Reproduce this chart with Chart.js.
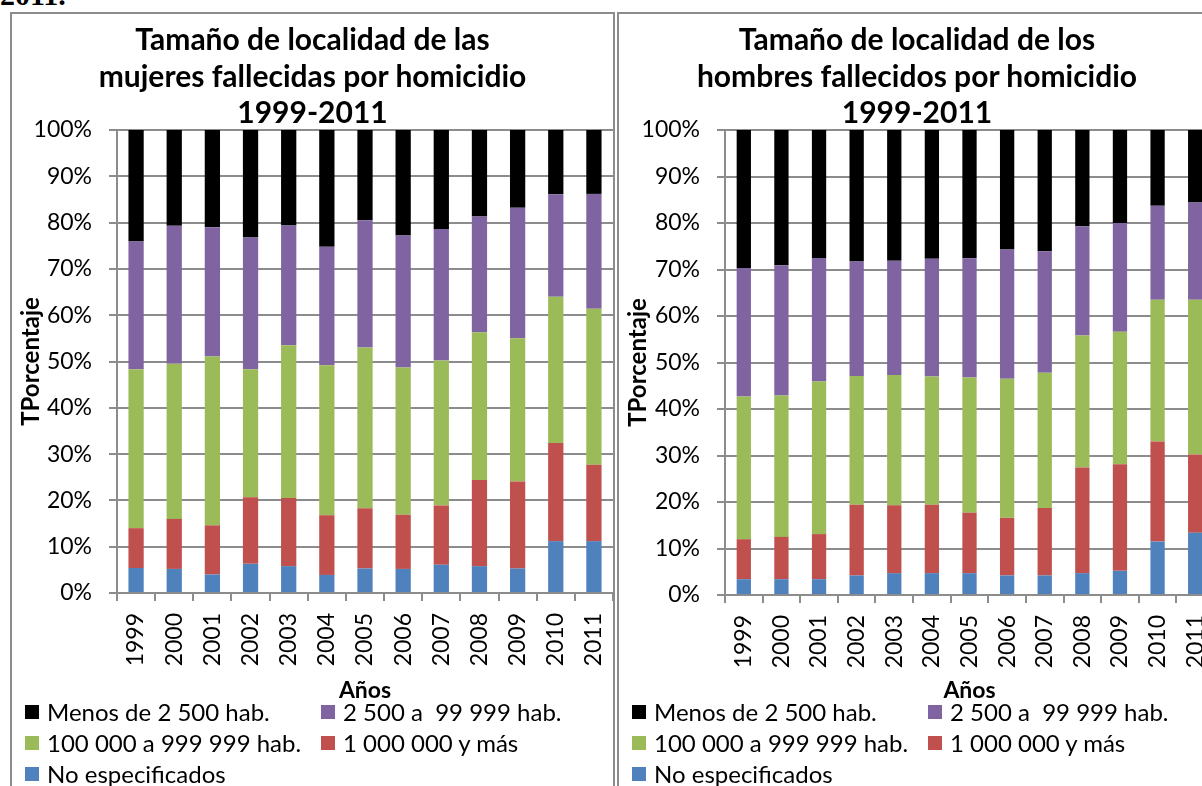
<!DOCTYPE html>
<html lang="es">
<head>
<meta charset="utf-8">
<title>Tamaño de localidad 1999-2011</title>
<script src="https://cdn.jsdelivr.net/npm/chart.js@4.4.1/dist/chart.umd.min.js"></script>
<style>
  html, body { margin: 0; padding: 0; }
  body { width: 1202px; height: 786px; overflow: hidden; background: #fff; position: relative; font-family: Lato, "Open Sans", sans-serif; color: #000; }
  .fecha { position: absolute; left: 0; top: -20px; font: bold 30px/30px "Liberation Serif", serif; }
  .panel { position: absolute; top: 12px; height: 800px; border: 2px solid #8c8c8c; box-sizing: border-box; background: #fff; }
  #panelMujeres { left: 10px; width: 605px; }
  #panelHombres { left: 617px; width: 600px; }
  .panel canvas { position: absolute; left: 0; top: 0; }
  .titulo { position: absolute; left: 0; right: 0; top: 6px; text-align: center; font-weight: bold; font-size: 30px; line-height: 36.5px; }
  .leyenda { position: absolute; left: 13px; top: 682px; display: grid; grid-template-columns: 296px auto; font-size: 24px; }
  .leyenda .item { display: flex; align-items: center; height: 31px; white-space: pre; }
  .leyenda .caja { width: 14px; height: 14px; margin-right: 8px; }
</style>
</head>
<body>
<div class="fecha">2011.</div>

<div class="panel" id="panelMujeres">
  <canvas id="graficoMujeres" width="601" height="772"></canvas>
  <div class="titulo">Tamaño de localidad de las<br>mujeres fallecidas por homicidio<br>1999-2011</div>
  <div class="leyenda" id="leyendaMujeres"></div>
</div>

<div class="panel" id="panelHombres">
  <canvas id="graficoHombres" width="595" height="772"></canvas>
  <div class="titulo">Tamaño de localidad de los<br>hombres fallecidos por homicidio<br>1999-2011</div>
  <div class="leyenda" id="leyendaHombres"></div>
</div>

<script>
// Años del eje X
const anios = ['1999', '2000', '2001', '2002', '2003', '2004', '2005', '2006', '2007', '2008', '2009', '2010', '2011'];

// Etiquetas del eje Y
const etiquetasY = ['0%', '10%', '20%', '30%', '40%', '50%', '60%', '70%', '80%', '90%', '100%'];

// Nombres y colores de las series (orden de la leyenda)
const nombresSeries = ['Menos de 2 500 hab.', '2 500 a  99 999 hab.', '100 000 a 999 999 hab.', '1 000 000 y más', 'No especificados'];
const coloresSeries = ['#000000', '#8064A2', '#9BBB59', '#C0504D', '#4F81BD'];

// Mujeres: porcentaje de cada tamaño de localidad por año
const mujeresMenos2500 = [24.1, 20.7, 21.0, 23.2, 20.6, 25.2, 19.5, 22.8, 21.4, 18.7, 16.8, 13.9, 13.8];
const mujeres2500 = [27.6, 29.8, 27.9, 28.5, 25.9, 25.6, 27.5, 28.5, 28.4, 25.0, 28.2, 22.1, 24.8];
const mujeres100000 = [34.3, 33.5, 36.5, 27.6, 33.0, 32.4, 34.7, 31.8, 31.3, 31.9, 30.9, 31.6, 33.7];
const mujeresMillon = [8.6, 10.8, 10.6, 14.4, 14.7, 12.9, 13.0, 11.7, 12.8, 18.6, 18.8, 21.2, 16.5];
const mujeresNoEsp = [5.4, 5.2, 4.0, 6.3, 5.8, 3.9, 5.3, 5.2, 6.1, 5.8, 5.3, 11.2, 11.2];

// Hombres: porcentaje de cada tamaño de localidad por año
const hombresMenos2500 = [29.7, 29.1, 27.5, 28.3, 28.1, 27.7, 27.6, 25.7, 26.1, 20.7, 20.0, 16.3, 15.6];
const hombres2500 = [27.6, 28.0, 26.6, 24.6, 24.6, 25.3, 25.6, 27.8, 26.1, 23.5, 23.4, 20.2, 20.9];
const hombres100000 = [30.7, 30.4, 32.8, 27.7, 28.0, 27.6, 29.1, 29.9, 29.1, 28.4, 28.5, 30.5, 33.3];
const hombresMillon = [8.6, 9.1, 9.7, 15.2, 14.6, 14.7, 13.0, 12.4, 14.5, 22.7, 22.9, 21.5, 16.8];
const hombresNoEsp = [3.4, 3.4, 3.4, 4.2, 4.7, 4.7, 4.7, 4.2, 4.2, 4.7, 5.2, 11.5, 13.4];

const gris = '#8c8c8c';
Chart.defaults.font.family = 'Lato';
Chart.defaults.color = '#000';

// Arma los datasets apilados (de abajo hacia arriba)
function armarDatasets(series, anchoBarra) {
    const orden = [4, 3, 2, 1, 0]; // No especificados abajo, Menos de 2 500 arriba
    return orden.map(i => ({
        label: nombresSeries[i],
        data: series[i],
        backgroundColor: coloresSeries[i],
        borderWidth: 0,
        barPercentage: anchoBarra,
        categoryPercentage: 1.0
    }));
}

// Crea un gráfico de barras apiladas al 100%
function crearGrafico(idCanvas, series, anchoBarra, anchoEjeY, altoEjeX) {
    const ctx = document.getElementById(idCanvas).getContext('2d');
    return new Chart(ctx, {
        type: 'bar',
        data: {
            labels: anios,
            datasets: armarDatasets(series, anchoBarra)
        },
        options: {
            responsive: false,
            animation: false,
            layout: { padding: { top: 116, left: 0, right: 0, bottom: 0 } },
            plugins: {
                legend: { display: false },
                title: { display: false },
                tooltip: { enabled: false }
            },
            scales: {
                x: {
                    stacked: true,
                    grid: { drawOnChartArea: false, drawTicks: true, tickLength: 8, color: gris, lineWidth: 2, offset: true },
                    border: { display: true, color: gris, width: 2 },
                    ticks: { font: { size: 23 }, minRotation: 90, maxRotation: 90, padding: 12, autoSkip: false },
                    title: { display: true, text: 'Años', font: { size: 23, weight: 'bold' }, padding: { top: 0, bottom: 82 } },
                    afterFit: escala => {
                        escala.height = altoEjeX;
                        // sin margen extra a los lados: el área del gráfico llega al borde
                        escala.paddingLeft = 0;
                        escala.paddingRight = 0;
                    }
                },
                y: {
                    stacked: true,
                    min: 0,
                    max: 100,
                    ticks: {
                        stepSize: 10,
                        font: { size: 23 },
                        padding: 17,
                        callback: (valor, indice) => etiquetasY[indice]
                    },
                    grid: { color: gris, lineWidth: 2, tickLength: 8 },
                    border: { color: gris, width: 2 },
                    title: { display: true, text: 'TPorcentaje', font: { size: 24, weight: 'bold' }, padding: { top: 5, bottom: 0 } },
                    afterFit: escala => { escala.width = anchoEjeY; }
                }
            }
        }
    });
}

// Leyenda en dos columnas, como en el original
function crearLeyenda(idLeyenda) {
    const cont = document.getElementById(idLeyenda);
    nombresSeries.forEach((nombre, i) => {
        const item = document.createElement('div');
        item.className = 'item';
        const caja = document.createElement('span');
        caja.className = 'caja';
        caja.style.background = coloresSeries[i];
        item.appendChild(caja);
        item.appendChild(document.createTextNode(nombre));
        cont.appendChild(item);
    });
}

crearGrafico('graficoMujeres', [mujeresMenos2500, mujeres2500, mujeres100000, mujeresMillon, mujeresNoEsp], 0.4, 105, 193);
crearGrafico('graficoHombres', [hombresMenos2500, hombres2500, hombres100000, hombresMillon, hombresNoEsp], 0.38, 106, 191);
crearLeyenda('leyendaMujeres');
crearLeyenda('leyendaHombres');
</script>
</body>
</html>
